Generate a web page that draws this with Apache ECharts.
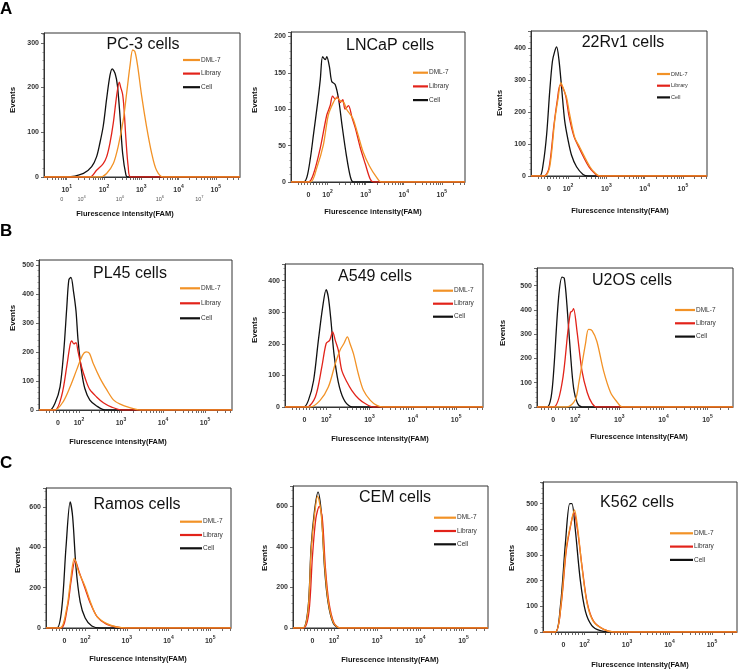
<!DOCTYPE html>
<html><head><meta charset="utf-8">
<script src="https://cdn.jsdelivr.net/npm/echarts@6/dist/echarts.min.js"></script>
<style>html,body{margin:0;padding:0;background:#fff}#c{width:740px;height:670px}</style>
</head><body><div id="c"></div>
<script>
// ---------- DATA (x = display position in decades: 10^k at k, "0" at 1.5; y = events) ----------
const seriesNames = ['DML-7', 'Library', 'Cell'];
const panelTitles = ['PC-3 cells', 'LNCaP cells', '22Rv1 cells', 'PL45 cells', 'A549 cells', 'U2OS cells', 'Ramos cells', 'CEM cells', 'K562 cells'];
const rowLetters = ['A', 'B', 'C'];

const pc3Dml7 = [[1.89,0],[2.07,8],[2.25,30],[2.38,68],[2.52,129],[2.61,189],[2.70,250],[2.77,284],[2.83,280],[2.90,250],[3.01,182],[3.14,114],[3.28,53],[3.41,15],[3.59,0]];
const pc3Library = [[1.62,0],[1.80,15],[1.98,30],[2.07,45],[2.16,76],[2.25,121],[2.34,182],[2.41,212],[2.45,200],[2.50,185],[2.54,150],[2.59,83],[2.65,23],[2.72,0]];
const pc3Cell = [[1.0,0],[1.45,8],[1.67,23],[1.80,45],[1.89,76],[1.98,114],[2.07,174],[2.16,227],[2.22,242],[2.30,231],[2.36,205],[2.43,136],[2.50,53],[2.59,4],[2.64,0]];

const lncapDml7 = [[1.55,0],[1.72,20],[1.89,51],[2.02,92],[2.15,109],[2.24,116],[2.33,112],[2.43,109],[2.50,100],[2.58,94],[2.67,87],[2.80,65],[2.93,42],[3.10,22],[3.28,7],[3.41,0]];
const lncapLibrary = [[1.50,0],[1.63,11],[1.81,47],[1.98,92],[2.07,105],[2.13,118],[2.20,114],[2.26,117],[2.33,109],[2.40,113],[2.46,100],[2.55,105],[2.64,89],[2.73,74],[2.86,47],[2.99,25],[3.12,4],[3.21,0]];
const lncapCell = [[1.37,0],[1.46,7],[1.55,33],[1.63,65],[1.74,109],[1.81,141],[1.87,172],[1.94,168],[1.98,172],[2.05,158],[2.11,138],[2.20,134],[2.29,114],[2.38,78],[2.49,38],[2.60,7],[2.68,0]];

const rv1Dml7 = [[1.39,0],[1.52,29],[1.65,174],[1.74,246],[1.81,293],[1.87,277],[1.96,246],[2.04,194],[2.17,122],[2.30,91],[2.43,60],[2.57,29],[2.70,10],[2.83,0]];
const rv1Library = [[1.37,0],[1.50,25],[1.63,160],[1.72,240],[1.79,285],[1.85,280],[1.94,250],[2.02,190],[2.15,125],[2.28,90],[2.41,58],[2.55,28],[2.68,10],[2.80,0]];
const rv1Cell = [[1.26,0],[1.35,39],[1.44,132],[1.52,267],[1.59,360],[1.65,391],[1.70,405],[1.76,365],[1.83,277],[1.91,174],[2.00,112],[2.09,65],[2.22,29],[2.39,5],[2.52,0]];

const pl45Dml7 = [[1.43,0],[1.63,30],[1.79,80],[1.95,140],[2.09,190],[2.17,200],[2.25,195],[2.34,160],[2.50,110],[2.66,70],[2.82,35],[2.98,20],[3.21,8],[3.45,0]];
const pl45Library = [[1.43,0],[1.59,50],[1.71,150],[1.79,225],[1.83,238],[1.88,228],[1.93,232],[1.98,200],[2.06,150],[2.17,100],[2.26,70],[2.42,45],[2.58,25],[2.78,10],[3.02,0]];
const pl45Cell = [[1.31,0],[1.43,23],[1.55,80],[1.64,205],[1.71,352],[1.76,449],[1.81,457],[1.87,409],[1.93,341],[1.98,239],[2.06,136],[2.14,74],[2.26,34],[2.42,14],[2.62,0]];

const a549Dml7 = [[1.63,0],[1.86,21],[2.05,63],[2.21,137],[2.32,180],[2.41,201],[2.49,222],[2.55,201],[2.63,169],[2.74,106],[2.86,53],[3.02,21],[3.17,5],[3.32,0]];
const a549Library = [[1.55,0],[1.75,32],[1.90,127],[2.00,201],[2.08,211],[2.15,238],[2.21,211],[2.28,180],[2.36,116],[2.48,79],[2.59,53],[2.75,26],[2.90,11],[3.09,0]];
const a549Cell = [[1.48,0],[1.59,21],[1.71,84],[1.82,211],[1.92,317],[2.00,372],[2.05,348],[2.11,275],[2.18,169],[2.28,79],[2.40,26],[2.55,2],[2.67,0]];

const u2osDml7 = [[1.81,0],[2.00,30],[2.08,100],[2.23,260],[2.30,320],[2.38,315],[2.49,270],[2.64,150],[2.80,60],[2.95,20],[3.06,0]];
const u2osLibrary = [[1.51,0],[1.70,100],[1.83,310],[1.89,390],[1.93,395],[1.96,405],[2.04,310],[2.15,150],[2.27,60],[2.38,15],[2.49,0]];
const u2osCell = [[1.36,0],[1.45,40],[1.51,150],[1.62,450],[1.70,535],[1.75,530],[1.81,420],[1.89,220],[1.96,80],[2.05,15],[2.15,0]];

const ramosDml7 = [[1.40,0],[1.56,100],[1.64,220],[1.74,345],[1.84,280],[2.00,205],[2.12,133],[2.28,58],[2.52,22],[2.76,5],[3.00,0]];
const ramosLibrary = [[1.42,0],[1.58,110],[1.66,230],[1.76,335],[1.86,275],[2.00,195],[2.12,125],[2.28,58],[2.50,20],[2.75,5],[2.95,0]];
const ramosCell = [[1.32,0],[1.44,100],[1.54,400],[1.64,625],[1.70,550],[1.78,300],[1.88,130],[2.00,50],[2.16,10],[2.36,0]];

const cemDml7 = [[1.28,0],[1.40,90],[1.47,380],[1.55,560],[1.62,650],[1.70,570],[1.78,320],[1.86,140],[1.98,30],[2.15,0]];
const cemLibrary = [[1.30,0],[1.42,80],[1.50,350],[1.58,540],[1.66,600],[1.73,540],[1.80,300],[1.88,130],[2.00,25],[2.15,0]];
const cemCell = [[1.28,0],[1.40,100],[1.47,400],[1.55,580],[1.63,670],[1.71,560],[1.78,300],[1.86,130],[1.98,25],[2.13,0]];

const k562Dml7 = [[1.31,0],[1.44,100],[1.57,330],[1.70,440],[1.76,475],[1.84,400],[1.94,250],[2.06,110],[2.21,40],[2.45,10],[2.68,0]];
const k562Library = [[1.31,0],[1.44,95],[1.57,320],[1.69,430],[1.75,465],[1.83,400],[1.94,255],[2.06,115],[2.21,42],[2.45,10],[2.68,0]];
const k562Cell = [[1.31,0],[1.43,100],[1.55,350],[1.65,500],[1.70,500],[1.78,400],[1.90,200],[2.02,80],[2.17,25],[2.37,5],[2.60,0]];

// x tick labels
const logicleLabelPos = [1.5, 2, 3, 4, 5];
const pc3LabelPos = [1, 2, 3, 4, 5];
const pc3SubLabelPos = [0.87, 1.40, 2.43, 3.50, 4.56];
const pc3SubLabelText = ['0', '10|4', '10|0', '10|6', '10|7'];

// ---------- LAYOUT ----------
const FONT = '"Liberation Sans", Arial, Helvetica, sans-serif';
const COLORS = {'DML-7': '#F29226', 'Library': '#E2231A', 'Cell': '#111111'};

const panelData = [
  [pc3Dml7, pc3Library, pc3Cell], [lncapDml7, lncapLibrary, lncapCell], [rv1Dml7, rv1Library, rv1Cell],
  [pl45Dml7, pl45Library, pl45Cell], [a549Dml7, a549Library, a549Cell], [u2osDml7, u2osLibrary, u2osCell],
  [ramosDml7, ramosLibrary, ramosCell], [cemDml7, cemLibrary, cemCell], [k562Dml7, k562Library, k562Cell]
];

const layout = [
  {g:[44,33,196,144],   x:[0.39,5.65], y:[322,100], t:[143,45],  lg:[183,60,17,13.6,6.5], ev:[13,100],  fam:[125,214], pc3:true},
  {g:[291,32,174,150],  x:[1.04,5.61], y:[206,50],  t:[390,46],  lg:[413,72.7,15,13.7,6.5], ev:[255,100], fam:[373,212]},
  {g:[531,31,176,145],  x:[1.03,5.63], y:[455,100], t:[623,43],  lg:[657,74,13,11.7,5.5], ev:[500,103], fam:[620,211]},
  {g:[39,260,193,150],  x:[1.05,5.64], y:[517,100], t:[130,274], lg:[180,288.3,20,15,6.5], ev:[13,318],  fam:[118,442]},
  {g:[285,264,198,143], x:[1.05,5.62], y:[453,100], t:[375,277], lg:[433,290.7,20,13,6.5], ev:[255,330], fam:[380,439]},
  {g:[537,268,196,139], x:[1.13,5.58], y:[573,100], t:[632,281], lg:[675,310,20,13.3,6.5], ev:[503,333], fam:[639,437]},
  {g:[46,488,185,140],  x:[1.06,5.50], y:[694,200], t:[137,505], lg:[180,521.7,22,13.3,6.5], ev:[18,560],  fam:[138,659]},
  {g:[293,486,195,142], x:[1.05,5.57], y:[700,200], t:[395,498], lg:[434,517.7,22,13.3,6.5], ev:[265,558], fam:[390,660]},
  {g:[543,482,194,150], x:[1.02,5.59], y:[584,100], t:[637,503], lg:[670,533.3,23,13.3,6.5], ev:[512,558], fam:[640,665]}
];
const letterPos = [[0,9],[0,231],[0,463]];

function xTicks(min, max, pc3) {
  const t = [];
  for (let k = 0; k <= 5; k++) for (let m = 1; m < 10; m++) {
    const v = k + Math.log10(m);
    if (!pc3 && v < 2) continue;
    if (v >= min && v <= max) t.push(+v.toFixed(4));
  }
  if (!pc3) [1.22,1.3,1.38,1.46,1.54,1.62,1.7,1.78,1.86,1.94].forEach(v => { if (v >= min) t.push(v); });
  return t;
}
const richX = {
  a: {fontSize: 7, fontFamily: FONT, fontWeight: 'bold', color: '#333', lineHeight: 10, verticalAlign: 'bottom'},
  b: {fontSize: 5, fontFamily: FONT, fontWeight: 'bold', color: '#333', lineHeight: 6, verticalAlign: 'top'}
};
const richSub = {
  a: {fontSize: 5.5, fontFamily: FONT, color: '#555', lineHeight: 7, verticalAlign: 'bottom'},
  b: {fontSize: 4, fontFamily: FONT, color: '#555', lineHeight: 4, verticalAlign: 'top'}
};
function fmtX(v) {
  if (Math.abs(v - 1.5) < 1e-6) return '{a|0}';
  return '{a|10}{b|' + Math.round(v) + '}';
}

const grids = [], xAxes = [], yAxes = [], series = [], legends = [], graphics = [];
layout.forEach((L, i) => {
  grids.push({left: L.g[0], top: L.g[1], width: L.g[2], height: L.g[3], show: true, borderColor: '#333', borderWidth: 1, containLabel: false});
  xAxes.push({
    type: 'value', gridIndex: i, min: L.x[0], max: L.x[1], position: 'bottom',
    axisLine: {show: true, onZero: false, lineStyle: {color: '#333', width: 1}},
    axisTick: {show: true, length: 3, inside: false, customValues: xTicks(L.x[0], L.x[1], L.pc3), lineStyle: {color: '#444', width: 0.8}},
    axisLabel: {show: true, margin: 7, customValues: L.pc3 ? pc3LabelPos : logicleLabelPos, formatter: fmtX, rich: richX},
    splitLine: {show: false}
  });
  yAxes.push({
    type: 'value', gridIndex: i, min: 0, max: L.y[0], interval: L.y[1],
    axisLine: {show: true, lineStyle: {color: '#333', width: 1}},
    axisTick: {show: true, length: 3, lineStyle: {color: '#444', width: 0.8}},
    minorTick: {show: true, splitNumber: 5, length: 1.5, lineStyle: {color: '#555', width: 0.6}},
    axisLabel: {margin: 5, fontSize: 7, fontFamily: FONT, fontWeight: 'bold', color: '#333',
      formatter: v => (Math.abs(v % L.y[1]) < 1e-6 ? String(v) : '')},
    splitLine: {show: false}
  });
  // series: Cell drawn first, then Library, then DML-7 on top
  [2, 1, 0].forEach(s => {
    const name = seriesNames[s];
    const pts = panelData[i][s];
    const data = [[L.x[0], 0]].concat(pts).concat([[L.x[1], 0]]);
    series.push({
      type: 'line', name: name, xAxisIndex: i, yAxisIndex: i, data: data,
      showSymbol: false, symbol: 'none', smooth: 0.3, animation: false,
      lineStyle: {color: COLORS[name], width: 1.3}, itemStyle: {color: COLORS[name]}
    });
  });
  const rowH = 8;
  legends.push({
    data: seriesNames, orient: 'vertical', left: L.lg[0], top: L.lg[1] - rowH / 2,
    itemWidth: L.lg[2], itemHeight: 2.2, itemGap: L.lg[3] - rowH, icon: 'rect', padding: 0,
    selectedMode: false,
    textStyle: {fontSize: L.lg[4], fontFamily: FONT, color: '#333', lineHeight: rowH, padding: [0, 0, 0, -4]}
  });
  graphics.push({type: 'text', x: L.t[0], y: L.t[1], style: {text: panelTitles[i], fill: '#111', font: '16px ' + FONT, textAlign: 'center', textVerticalAlign: 'middle'}});
  graphics.push({type: 'text', x: L.ev[0], y: L.ev[1], rotation: Math.PI / 2, style: {text: 'Events', fill: '#111', font: 'bold 8px ' + FONT, textAlign: 'center', textVerticalAlign: 'middle'}});
  graphics.push({type: 'text', x: L.fam[0], y: L.fam[1], style: {text: 'Flurescence intensity(FAM)', fill: '#111', font: 'bold 7.5px ' + FONT, textAlign: 'center', textVerticalAlign: 'middle'}});
});

// PC-3 second label row
xAxes.push({
  type: 'value', gridIndex: 0, min: layout[0].x[0], max: layout[0].x[1], position: 'bottom',
  axisLine: {show: false}, axisTick: {show: false}, splitLine: {show: false},
  axisLabel: {show: true, margin: 18, customValues: pc3SubLabelPos,
    formatter: v => {
      const k = pc3SubLabelPos.findIndex(p => Math.abs(p - v) < 1e-6);
      const t = pc3SubLabelText[k] || '';
      const parts = t.split('|');
      return parts.length > 1 ? '{a|' + parts[0] + '}{b|' + parts[1] + '}' : '{a|' + t + '}';
    }, rich: richSub}
});

rowLetters.forEach((l, r) => {
  graphics.push({type: 'text', x: letterPos[r][0], y: letterPos[r][1], style: {text: l, fill: '#000', font: 'bold 17px ' + FONT, textAlign: 'left', textVerticalAlign: 'middle'}});
});

const chart = echarts.init(document.getElementById('c'), null, {renderer: 'canvas'});
chart.setOption({
  backgroundColor: '#fff', animation: false,
  grid: grids, xAxis: xAxes, yAxis: yAxes, series: series, legend: legends, graphic: graphics
});
</script></body></html>
